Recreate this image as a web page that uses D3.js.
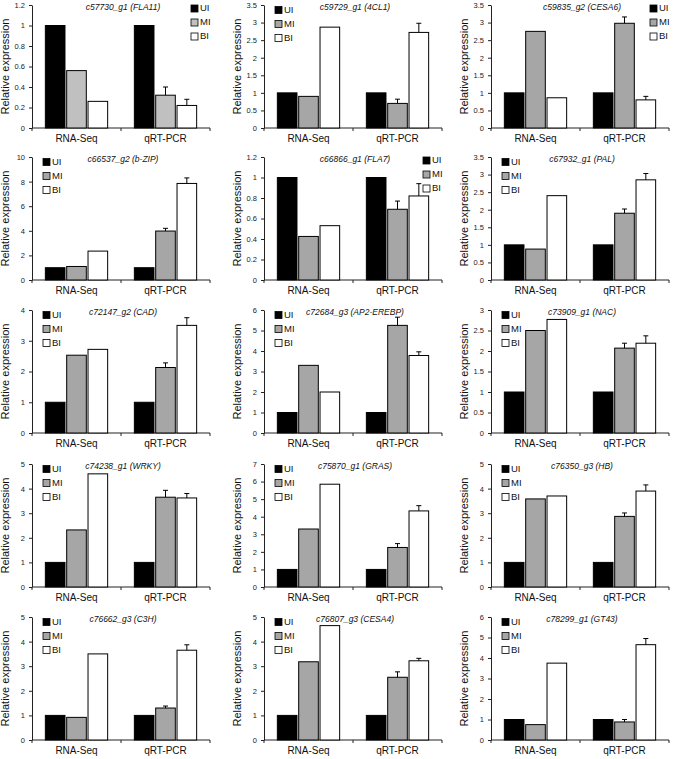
<!DOCTYPE html>
<html>
<head>
<meta charset="utf-8">
<script src="https://cdn.jsdelivr.net/npm/d3@7"></script>
<style>
  html, body { margin: 0; padding: 0; background: #fff; }
  svg { display: block; font-family: "Liberation Sans", Arial, sans-serif; }
</style>
</head>
<body>
<svg id="chart" width="675" height="759"></svg>
<script>
// ---------------- DATA ----------------
const categories = ["RNA-Seq", "qRT-PCR"];
const series = ["UI", "MI", "BI"];

const geneIds = [
  "c57730_g1", "c59729_g1", "c59835_g2",
  "c66537_g2", "c66866_g1", "c67932_g1",
  "c72147_g2", "c72684_g3", "c73909_g1",
  "c74238_g1", "c75870_g1", "c76350_g3",
  "c76662_g3", "c76807_g3", "c78299_g1"
];
const geneNames = [
  "FLA11", "4CL1", "CESA6",
  "b-ZIP", "FLA7", "PAL",
  "CAD", "AP2-EREBP", "NAC",
  "WRKY", "GRAS", "HB",
  "C3H", "CESA4", "GT43"
];

const yTicks = [
  [0, 0.2, 0.4, 0.6, 0.8, 1, 1.2],
  [0, 0.5, 1, 1.5, 2, 2.5, 3, 3.5],
  [0, 0.5, 1, 1.5, 2, 2.5, 3, 3.5],
  [0, 2, 4, 6, 8, 10],
  [0, 0.2, 0.4, 0.6, 0.8, 1, 1.2],
  [0, 0.5, 1, 1.5, 2, 2.5, 3, 3.5],
  [0, 1, 2, 3, 4],
  [0, 1, 2, 3, 4, 5, 6],
  [0, 0.5, 1, 1.5, 2, 2.5, 3],
  [0, 1, 2, 3, 4, 5],
  [0, 1, 2, 3, 4, 5, 6, 7],
  [0, 1, 2, 3, 4, 5],
  [0, 1, 2, 3, 4, 5],
  [0, 1, 2, 3, 4, 5],
  [0, 1, 2, 3, 4, 5, 6]
];

// values per panel: [UI, MI, BI]
const rnaSeqValues = [
  [1, 0.56, 0.26],
  [1, 0.90, 2.87],
  [1, 2.75, 0.86],
  [1, 1.10, 2.35],
  [1, 0.425, 0.53],
  [1, 0.88, 2.40],
  [1, 2.53, 2.72],
  [1, 3.30, 2.00],
  [1, 2.50, 2.77],
  [1, 2.32, 4.60],
  [1, 3.30, 5.85],
  [1, 3.58, 3.70],
  [1, 0.92, 3.50],
  [1, 3.18, 4.65],
  [1, 0.75, 3.75]
];
const qrtValues = [
  [1, 0.32, 0.22],
  [1, 0.70, 2.72],
  [1, 2.98, 0.80],
  [1, 3.98, 7.85],
  [1, 0.69, 0.82],
  [1, 1.90, 2.85],
  [1, 2.13, 3.50],
  [1, 5.25, 3.78],
  [1, 2.07, 2.19],
  [1, 3.65, 3.62],
  [1, 2.25, 4.33],
  [1, 2.87, 3.90],
  [1, 1.30, 3.65],
  [1, 2.55, 3.22],
  [1, 0.88, 4.65]
];
const qrtErrors = [
  [0, 0.08, 0.06],
  [0, 0.12, 0.26],
  [0, 0.18, 0.10],
  [0, 0.22, 0.45],
  [0, 0.08, 0.12],
  [0, 0.12, 0.18],
  [0, 0.15, 0.25],
  [0, 0.40, 0.18],
  [0, 0.12, 0.18],
  [0, 0.28, 0.18],
  [0, 0.22, 0.30],
  [0, 0.14, 0.25],
  [0, 0.08, 0.22],
  [0, 0.22, 0.10],
  [0, 0.12, 0.30]
];

// ---------------- LAYOUT ----------------
const colLeft = [32, 264, 491];
const rowBottom = [128, 280, 433, 587, 740];
const plotW = 178, plotH = 123;
const legendRight = [true, false, true, false, true, false, false, false, false, false, false, false, false, false, false];

const svg = d3.select("#chart");
const fills = ["#000000", "#a6a6a6", "#ffffff"];

geneIds.forEach((gid, i) => {
  const col = i % 3, row = Math.floor(i / 3);
  const x0 = colLeft[col], yBottom = rowBottom[row], yTop = yBottom - plotH;
  const g = svg.append("g").attr("transform", `translate(${x0},${yTop})`);

  const ticks = yTicks[i];
  const y = d3.scaleLinear().domain([0, ticks[ticks.length - 1]]).range([plotH, 0]);
  const x = d3.scaleBand().domain(categories).range([0, plotW]).paddingInner(0.3).paddingOuter(0.15);
  const xs = d3.scaleBand().domain(series).range([0, x.bandwidth()]).paddingInner(0.08);

  // y axis
  const yAxis = d3.axisLeft(y).tickValues(ticks).tickSize(3).tickSizeOuter(0).tickPadding(4)
    .tickFormat(d => String(+d.toFixed(2)));
  const ya = g.append("g").call(yAxis);
  ya.select(".domain").attr("stroke", "#222").attr("stroke-width", 1);
  ya.selectAll(".tick line").attr("stroke", "#222");
  ya.selectAll(".tick text").attr("font-size", 7.5).attr("fill", "#222")
    .attr("font-family", "Liberation Sans, Arial, sans-serif");

  // x axis
  const xa = g.append("g").attr("transform", `translate(0,${plotH})`);
  xa.append("line").attr("x1", 0).attr("x2", plotW).attr("stroke", "#222");
  [0, plotW / 2, plotW].forEach(t => {
    xa.append("line").attr("x1", t).attr("x2", t).attr("y1", 0).attr("y2", 3).attr("stroke", "#222");
  });
  xa.selectAll("text.cat").data(categories).join("text")
    .attr("class", "cat")
    .attr("x", d => x(d) + x.bandwidth() / 2)
    .attr("y", 14)
    .attr("text-anchor", "middle")
    .attr("font-size", 10)
    .attr("fill", "#111")
    .text(d => d);

  // bars
  const groups = [rnaSeqValues[i], qrtValues[i]];
  const errs = [null, qrtErrors[i]];
  categories.forEach((cat, ci) => {
    const gg = g.append("g").attr("transform", `translate(${x(cat)},0)`);
    series.forEach((s, si) => {
      const v = groups[ci][si];
      const fill = (si === 1 && i === 0) ? "#c0c0c0" : fills[si];
      gg.append("rect")
        .attr("x", xs(s)).attr("width", xs.bandwidth())
        .attr("y", y(v)).attr("height", plotH - y(v))
        .attr("fill", fill).attr("stroke", "#000").attr("stroke-width", 1);
      if (errs[ci] && errs[ci][si] > 0) {
        const cx = xs(s) + xs.bandwidth() / 2;
        const ey = y(v + errs[ci][si]);
        gg.append("line").attr("x1", cx).attr("x2", cx).attr("y1", y(v)).attr("y2", ey)
          .attr("stroke", "#000").attr("stroke-width", 1);
        gg.append("line").attr("x1", cx - 2.5).attr("x2", cx + 2.5).attr("y1", ey).attr("y2", ey)
          .attr("stroke", "#000").attr("stroke-width", 1);
      }
    });
  });

  // y label
  g.append("text")
    .attr("transform", `translate(-26,${plotH / 2}) rotate(-90)`)
    .attr("text-anchor", "middle")
    .attr("dominant-baseline", "middle")
    .attr("font-size", 11)
    .attr("fill", "#111")
    .text("Relative expression");

  // title
  g.append("text")
    .attr("x", plotW / 2 + 2)
    .attr("y", 3)
    .attr("text-anchor", "middle")
    .attr("dominant-baseline", "middle")
    .attr("font-size", 8.5)
    .attr("font-style", "italic")
    .attr("fill", "#111")
    .text(`${gid} (${geneNames[i]})`);

  // legend
  const lx = legendRight[i] ? 159 : 11;
  const ly = legendRight[i] ? 3.5 : 5;
  const lg = g.append("g").attr("transform", `translate(${lx},${ly})`);
  series.forEach((s, si) => {
    const fill = (si === 1 && i === 0) ? "#c0c0c0" : fills[si];
    lg.append("rect").attr("x", 0).attr("y", si * 14 - 3.5).attr("width", 7).attr("height", 7)
      .attr("fill", fill).attr("stroke", "#000").attr("stroke-width", 0.8);
    lg.append("text").attr("x", 9).attr("y", si * 14).attr("dominant-baseline", "middle")
      .attr("font-size", 9.5).attr("fill", "#111").text(s);
  });
});
</script>
</body>
</html>
